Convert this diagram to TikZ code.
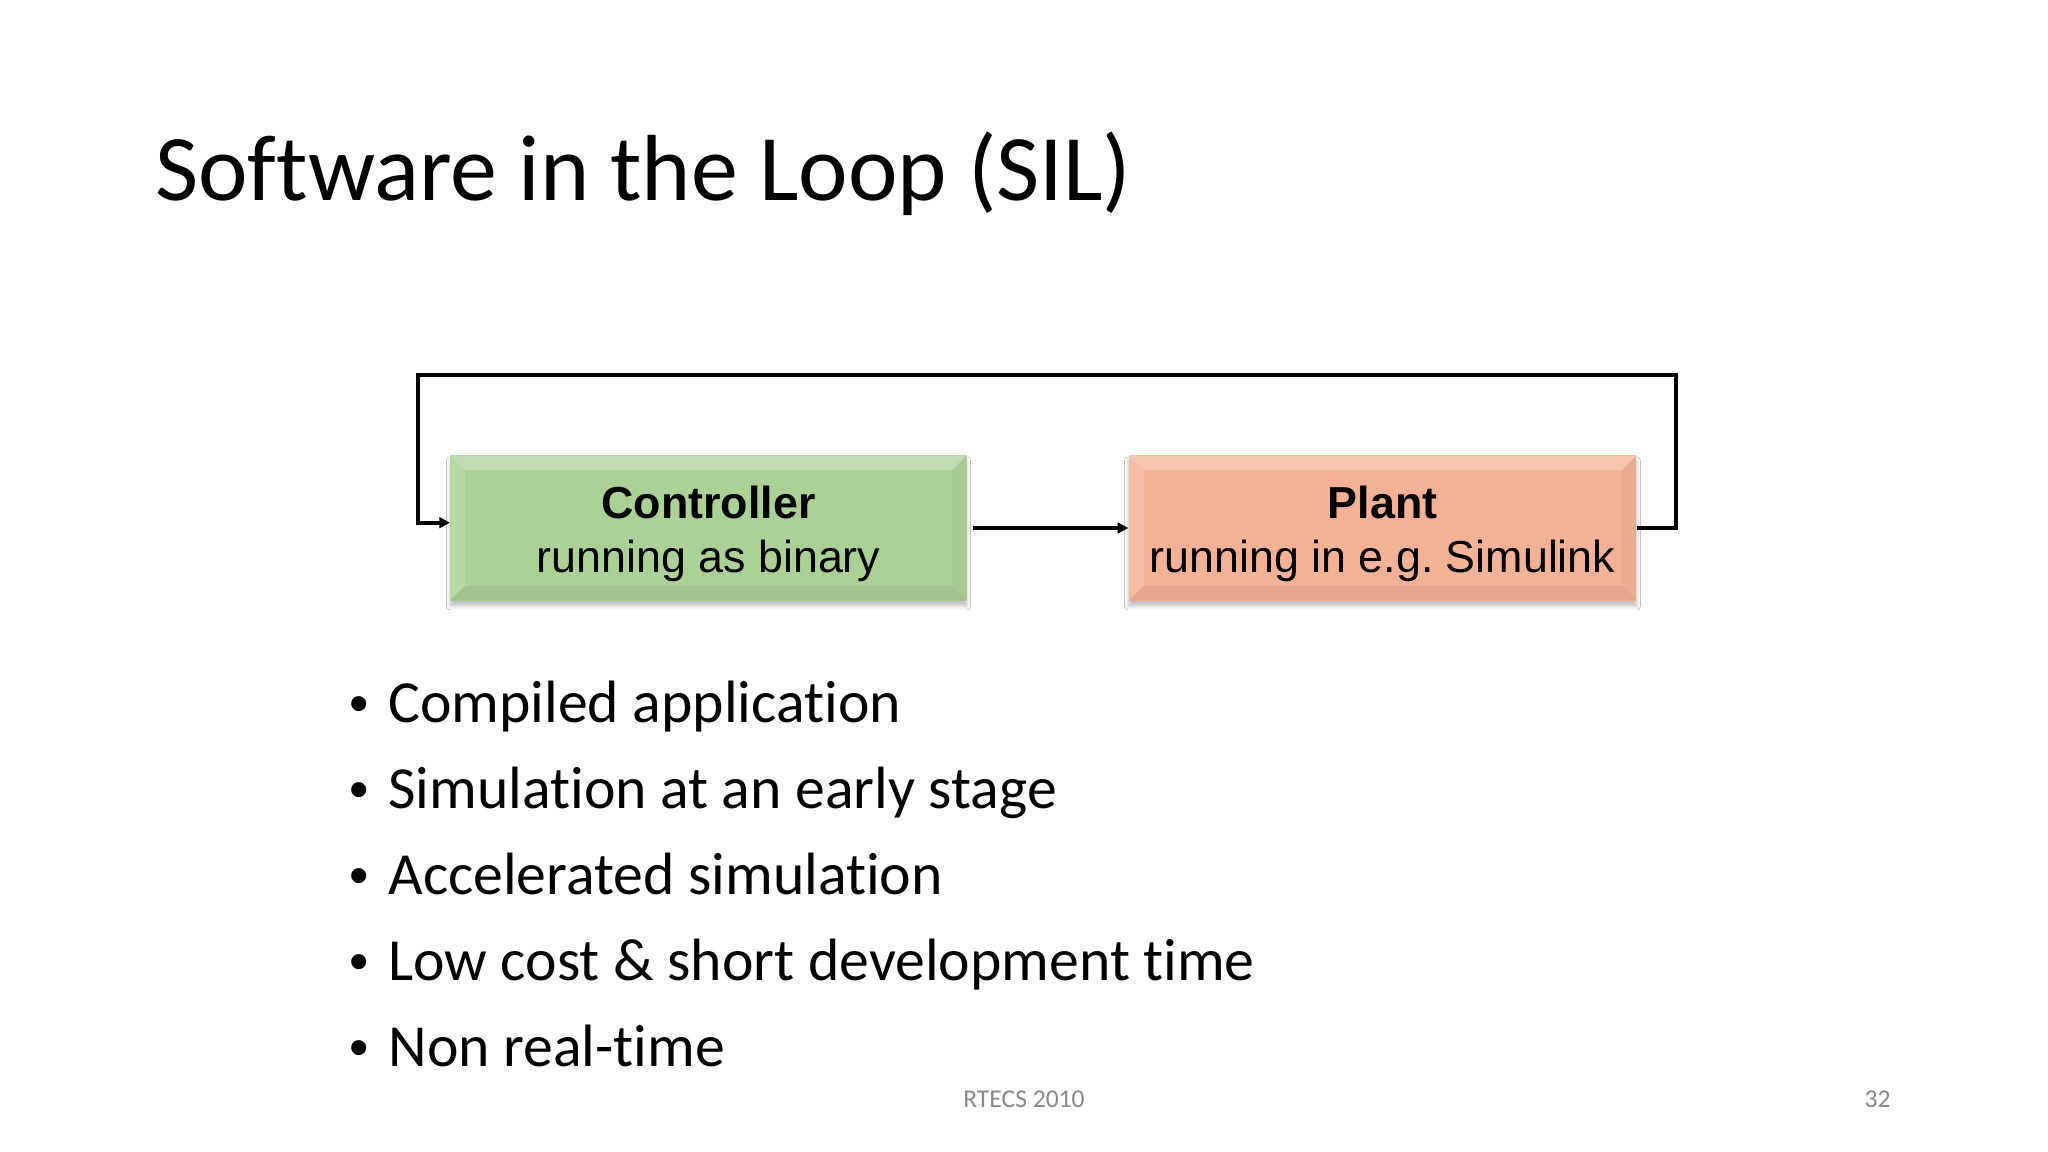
\documentclass[tikz,border=0pt]{standalone}
\usepackage{fontspec}
\setmainfont{Carlito}[Ligatures=NoCommon]
\newfontfamily\arialf{Liberation Sans}
\usetikzlibrary{arrows.meta,calc,shadows.blur}
\definecolor{ctrlgreen}{RGB}{172,209,150}
\definecolor{plantorange}{RGB}{243,178,150}
\definecolor{footgray}{RGB}{137,137,137}
\frenchspacing
\tikzset{
  blockbox/.style={minimum height=68pt, inner sep=0pt,
    blur shadow={shadow xshift=0pt, shadow yshift=-2.5pt, shadow blur steps=6, shadow opacity=25},
    path picture={
      \fill[white,opacity=0.25] (path picture bounding box.north west) -- (path picture bounding box.north east)
        -- ($(path picture bounding box.north east)+(-15,15)$) -- ($(path picture bounding box.north west)+(15,15)$) -- cycle;
      \fill[white,opacity=0.15] (path picture bounding box.north west) -- ($(path picture bounding box.north west)+(15,15)$)
        -- ($(path picture bounding box.south west)+(15,-15)$) -- (path picture bounding box.south west) -- cycle;
      \fill[black,opacity=0.06] (path picture bounding box.south west) -- ($(path picture bounding box.south west)+(15,-15)$)
        -- ($(path picture bounding box.south east)+(-15,-15)$) -- (path picture bounding box.south east) -- cycle;
      \fill[black,opacity=0.03] (path picture bounding box.north east) -- ($(path picture bounding box.north east)+(-15,15)$)
        -- ($(path picture bounding box.south east)+(-15,-15)$) -- (path picture bounding box.south east) -- cycle;
    }},
  boxtext/.style={inner sep=0pt, align=center, font=\arialf\fontsize{21}{25.3}\selectfont},
  conn/.style={line width=1.9pt, -{Triangle[length=5pt,width=5pt]}},
  bullettext/.style={anchor=base west, inner sep=0pt, font=\fontsize{28}{33}\selectfont},
  bulletdot/.style={anchor=base west, inner sep=0pt, font=\arialf\fontsize{26}{30}\selectfont},
  foot/.style={inner sep=0pt, text=footgray, font=\fontsize{12}{14}\selectfont}
}
\begin{document}
\begin{tikzpicture}[x=0.46875pt,y=-0.46875pt]
\useasboundingbox[fill=white] (0,0) rectangle (2048,1152);

\node[anchor=base west, inner sep=0pt, font=\fontsize{44}{50}\selectfont] (title) at (155,201) {Software in the Loop (SIL)};

\node[blockbox, fill=ctrlgreen, minimum width=242pt] (ctrl) at (708.5,528) {};
\node[blockbox, fill=plantorange, minimum width=238pt] (plant) at (1382.5,528) {};
\node[boxtext] (ctrltxt) at (708.5,534) {\textbf{Controller}\\running as binary};
\node[boxtext] (planttxt) at (1382.5,534) {\textbf{Plant}\\running in e.g.\ Simulink};

\coordinate (tr) at (1676,375);
\coordinate (tl) at (418,375);
\draw[conn, shorten <=3pt] (ctrl.east) -- (plant.west);
\draw[conn] (plant.east) -| (tr) -- (tl) |- ([yshift=2.5pt]ctrl.west);

\foreach \t [count=\i] in {Compiled application, Simulation at an early stage, Accelerated simulation, Low cost \& short development time, Non real-time}{
  \node[bullettext] (b\i) at (388, {722+86*(\i-1)}) {\t};
  \node[bulletdot] (d\i) at (349, {722+86*(\i-1)}) {\textbullet};
}

\node[foot, anchor=base] (ft) at (1024,1107) {RTECS 2010};
\node[foot, anchor=base east] (pg) at (1891,1107) {32};
\end{tikzpicture}
\end{document}
